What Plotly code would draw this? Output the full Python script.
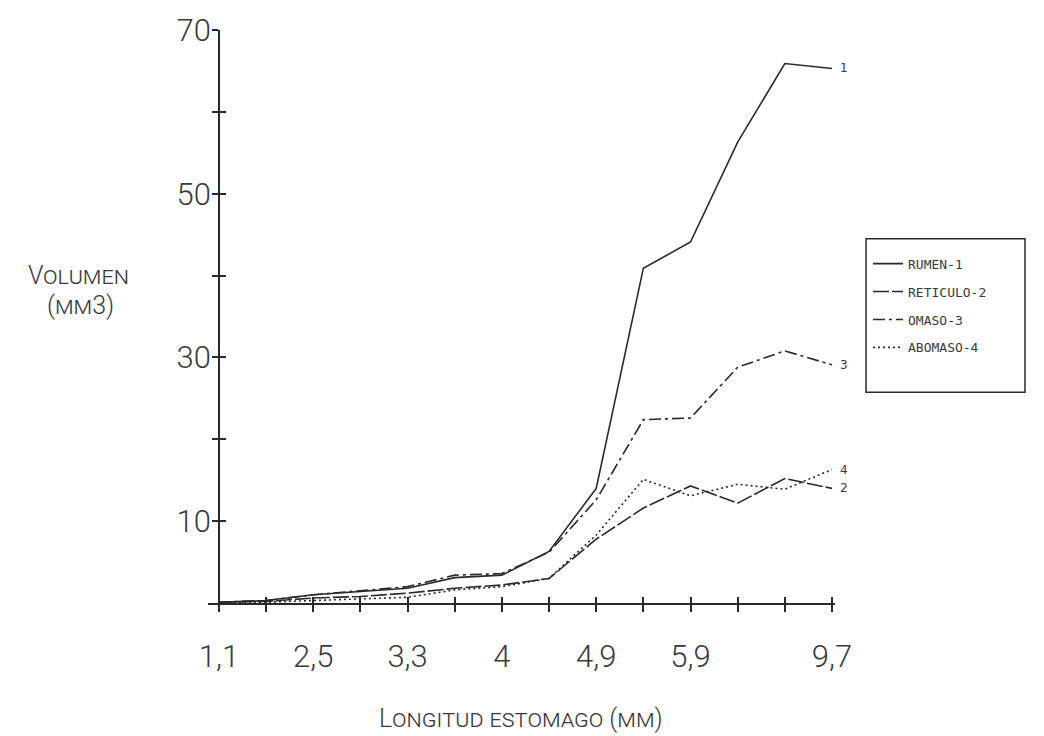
import plotly.graph_objects as go

# ---- data ----
tick_labels = ["1,1", "", "2,5", "", "3,3", "", "4", "", "4,9", "", "5,9", "", "", "9,7"]
x_idx = list(range(len(tick_labels)))

rumen = [0.1, 0.3, 1.0, 1.4, 1.8, 3.1, 3.4, 6.3, 14.0, 40.9, 44.1, 56.3, 65.9, 65.3]
reticulo = [0.1, 0.2, 0.6, 0.8, 1.2, 1.8, 2.2, 3.0, 7.8, 11.6, 14.3, 12.2, 15.2, 14.0]
omaso = [0.1, 0.3, 1.0, 1.5, 2.0, 3.4, 3.6, 6.2, 12.6, 22.4, 22.6, 28.8, 30.8, 29.1]
abomaso = [0.0, 0.1, 0.3, 0.5, 0.7, 1.6, 2.0, 3.0, 8.3, 15.1, 13.1, 14.5, 13.9, 16.3]

series_names = ["RUMEN-1", "RETICULO-2", "OMASO-3", "ABOMASO-4"]
end_labels = ["1", "2", "3", "4"]
y_tickvals = [10, 20, 30, 40, 50, 60, 70]
y_ticktext = ["10", "", "30", "", "50", "", "70"]

INK = "#2a2a2a"
TXT = "#3a3a3a"

series = [rumen, reticulo, omaso, abomaso]
dashes = ["solid", "16px,3px", "12px,4px,3px,4px", "2px,3px"]
axes_of = [("x", "y"), ("x", "y"), ("x", "y"), ("x2", "y2")]

fig = go.Figure()
for name, ys, d, (xa, ya) in zip(series_names, series, dashes, axes_of):
    fig.add_trace(go.Scatter(
        x=x_idx, y=ys, mode="lines", name=name, legendgroup=name,
        xaxis=xa, yaxis=ya,
        line=dict(color=INK, width=1.6, dash=d),
    ))

# end labels
for lab, ys in zip(end_labels, series):
    fig.add_annotation(x=x_idx[-1], y=ys[-1], text=lab, showarrow=False,
                       xanchor="left", xshift=6, font=dict(family="DejaVu Sans", size=12, color=TXT))

# axis titles (small caps)
fig.add_annotation(xref="paper", yref="paper", x=(78 - 208) / 627, y=(603 - 272) / 579,
                   text="Volumen", showarrow=False, xanchor="center", yanchor="middle",
                   font=dict(family="Roboto", size=25, color=TXT, variant="small-caps", weight=300))
fig.add_annotation(xref="paper", yref="paper", x=(80 - 208) / 627, y=(603 - 302) / 579,
                   text="(mm3)", showarrow=False, xanchor="center", yanchor="middle",
                   font=dict(family="Roboto", size=25, color=TXT, variant="small-caps", weight=300))
fig.add_annotation(xref="paper", yref="paper", x=(521 - 208) / 627, y=(603 - 720) / 579,
                   text="Longitud estomago (mm)", showarrow=False, xanchor="center", yanchor="middle",
                   font=dict(family="Roboto", size=25, color=TXT, variant="small-caps", weight=300))

# legend box
fig.add_shape(type="rect", xref="paper", yref="paper",
              x0=(866 - 208) / 627, x1=(1025 - 208) / 627,
              y0=(603 - 390) / 579, y1=(603 - 235) / 579,
              line=dict(color=INK, width=1.5), fillcolor="rgba(0,0,0,0)")

tickfont = dict(family="Roboto", size=31, color=TXT, weight=300)

fig.update_layout(
    width=1044, height=736,
    margin=dict(l=208, r=209, t=24, b=133),
    paper_bgcolor="white", plot_bgcolor="white",
    showlegend=True,
    legend=dict(x=(868 - 208) / 627, y=(603 - 245) / 579, xanchor="left", yanchor="top",
                font=dict(family="DejaVu Sans Mono", size=13, color=TXT),
                bgcolor="rgba(0,0,0,0)", borderwidth=0, itemwidth=30,
                tracegroupgap=8),
    xaxis=dict(range=[-0.233, 13.064], tickmode="array", tickvals=x_idx, ticktext=tick_labels,
               showgrid=False, zeroline=False, showline=True, linecolor=INK, linewidth=1.6,
               ticks="outside", ticklen=7, tickwidth=1.6, tickcolor=INK,
               tickfont=tickfont, ticklabelstandoff=18),
    xaxis2=dict(range=[-0.233, 13.064], overlaying="x", anchor="y2", tickmode="array",
                tickvals=x_idx, showticklabels=False, showgrid=False, zeroline=False,
                showline=False, ticks="inside", ticklen=6, tickwidth=1.6, tickcolor=INK, side="bottom"),
    yaxis=dict(range=[0, 70], tickmode="array", tickvals=y_tickvals, ticktext=y_ticktext,
               anchor="free", position=11 / 627,
               showgrid=False, zeroline=False, showline=True, linecolor=INK, linewidth=1.6,
               ticks="outside", ticklen=6, tickwidth=1.6, tickcolor=INK,
               tickfont=tickfont, ticklabelstandoff=-5),
    yaxis2=dict(range=[0, 70], overlaying="y", anchor="free", position=11 / 627,
                tickmode="array", tickvals=y_tickvals, showticklabels=False,
                showgrid=False, zeroline=False, showline=False,
                ticks="inside", ticklen=6, tickwidth=1.6, tickcolor=INK, side="left"),
)

fig.write_html("out.html")
